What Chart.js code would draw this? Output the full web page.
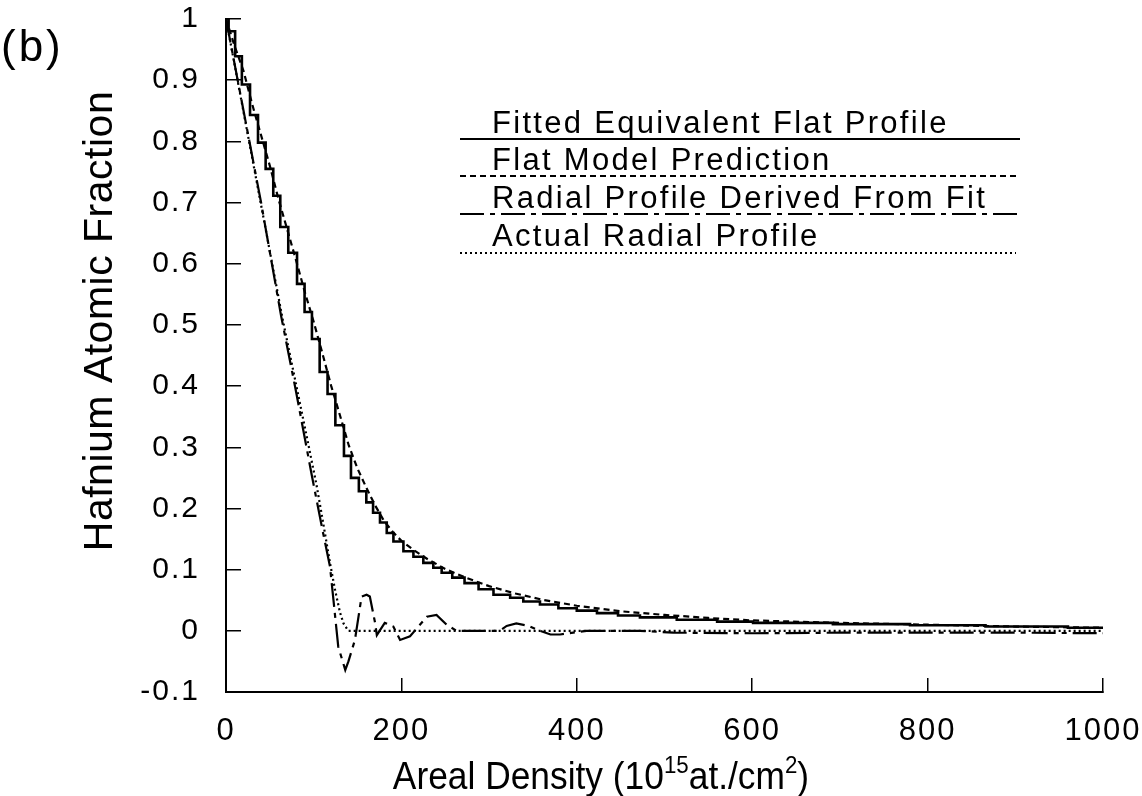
<!DOCTYPE html>
<html lang="en">
<head>
    <meta charset="UTF-8">
    <title>Hafnium Atomic Fraction vs Areal Density</title>
    <script src="https://cdn.jsdelivr.net/npm/chart.js@4/dist/chart.umd.min.js"></script>
    <style>
        html, body { margin: 0; padding: 0; background: #fff; }
        #wrap { width: 1142px; height: 796px; position: relative; }
    </style>
</head>
<body>
    <div id="wrap">
        <canvas id="profile" width="1142" height="796"></canvas>
    </div>

    <script>
        // axis ticks
        const xTicks = [0, 200, 400, 600, 800, 1000];
        const yTicks = [-0.1, 0, 0.1, 0.2, 0.3, 0.4, 0.5, 0.6, 0.7, 0.8, 0.9, 1];

        const seriesNames = [
            'Fitted Equivalent Flat Profile',
            'Flat Model Prediction',
            'Radial Profile Derived From Fit',
            'Actual Radial Profile'
        ];

        // fitted equivalent flat profile: step edges and the level held from each edge on
        const fitEdges = [0, 3, 10.4, 18.1, 27.4, 36.5, 45.2, 53.9, 61.9, 71,
            81, 89.6, 98, 106.8, 115.8, 124.7, 134.5, 142.5, 151.5, 160,
            167.7, 175.6, 183.3, 190.9, 202.3, 213.7, 225, 236.4, 245.9, 258,
            272, 288, 305, 324, 339, 358, 379, 400, 423, 447,
            472, 514, 560, 601, 692, 780, 866, 960, 1000];
        const fitLevels = [1.0, 0.98, 0.939, 0.893, 0.843, 0.798, 0.755, 0.711, 0.66, 0.618,
            0.567, 0.521, 0.477, 0.423, 0.387, 0.336, 0.286, 0.25, 0.228, 0.21,
            0.193, 0.177, 0.16, 0.146, 0.13, 0.121, 0.111, 0.103, 0.095, 0.087,
            0.078, 0.068, 0.059, 0.054, 0.048, 0.043, 0.037, 0.033, 0.029, 0.025,
            0.022, 0.018, 0.015, 0.013, 0.011, 0.009, 0.007, 0.005, 0.005];

        // flat model prediction
        const flatX = [0, 10, 20, 30, 40, 50, 60, 70, 80, 90,
            100, 110, 120, 130, 140, 150, 160, 170, 180, 190,
            200, 215, 230, 250, 275, 300, 330, 360, 400, 450,
            500, 550, 600, 700, 800, 900, 1000];
        const flatY = [1.0, 0.955, 0.915, 0.86, 0.81, 0.76, 0.705, 0.655, 0.605, 0.553,
            0.505, 0.453, 0.40, 0.352, 0.303, 0.265, 0.234, 0.205, 0.18, 0.162,
            0.147, 0.131, 0.117, 0.101, 0.086, 0.073, 0.061, 0.051, 0.041, 0.032,
            0.026, 0.021, 0.017, 0.013, 0.010, 0.007, 0.005];

        // radial profile derived from the fit
        const derivedX = [0, 20, 40, 62.8, 80, 97.7, 110, 118.6, 128, 136,
            139.6, 147, 154.6, 160.3, 164, 170, 172, 181, 190.8, 198.5,
            209.8, 229, 240, 251.5, 263, 312, 320, 331, 345, 358,
            370, 381, 411, 472, 510, 600, 700, 800, 900, 1000];
        const derivedY = [1.0, 0.85, 0.70, 0.515, 0.39, 0.255, 0.165, 0.105, -0.026, -0.064,
            -0.05, -0.015, 0.056, 0.059, 0.056, 0.013, -0.007, 0.013, 0.007, -0.015,
            -0.009, 0.023, 0.026, 0.01, 0, 0, 0.008, 0.012, 0.008, 0,
            -0.006, -0.006, 0, 0, -0.003, -0.004, -0.003, -0.003, -0.003, -0.004];

        // actual radial profile
        const actualX = [0, 20, 40, 64.5, 78.7, 92.7, 103, 110, 118.6, 124.3, 130, 134, 139.5, 1000];
        const actualY = [1.0, 0.848, 0.696, 0.51, 0.411, 0.313, 0.24, 0.183, 0.111, 0.067, 0.03, 0.012, 0, 0];

        function points(xs, ys) {
            return xs.map(function (x, i) { return { x: x, y: ys[i] }; });
        }

        var textFont = "'Liberation Sans', Arial, Helvetica, sans-serif";
        var dashes = [[], [6, 4], [24, 6, 5, 6], [2, 3]];
        var widths = [2.6, 2.2, 2.2, 2.2];

        // titles, panel letter and the line-sample legend
        var decorations = {
            id: 'decorations',
            beforeDraw: function (chart) {
                chart.ctx.letterSpacing = '2px';
            },
            afterDraw: function (chart) {
                var ctx = chart.ctx;
                ctx.save();
                ctx.fillStyle = '#000';
                ctx.strokeStyle = '#000';

                // (b)
                ctx.letterSpacing = '3px';
                ctx.font = '44px ' + textFont;
                ctx.textAlign = 'left';
                ctx.textBaseline = 'alphabetic';
                ctx.fillText('(b)', 1, 61);

                // y title
                ctx.letterSpacing = '0.5px';
                ctx.save();
                ctx.translate(101, 321);
                ctx.rotate(-Math.PI / 2);
                ctx.font = '41px ' + textFont;
                ctx.textAlign = 'center';
                ctx.textBaseline = 'middle';
                ctx.fillText('Hafnium Atomic Fraction', 0, 0);
                ctx.restore();

                // x title with superscripts
                var big = '38px ' + textFont, small = '24px ' + textFont;
                var parts = [
                    ['Areal Density (10', big, 0],
                    ['15', small, -16],
                    ['at./cm', big, 0],
                    ['2', small, -16],
                    [')', big, 0]
                ];
                ctx.letterSpacing = '0px';
                var total = 0;
                parts.forEach(function (p) { ctx.font = p[1]; total += ctx.measureText(p[0]).width; });
                var sx = 0.93;
                ctx.save();
                ctx.translate(601 - total * sx / 2, 789);
                ctx.scale(sx, 1);
                ctx.textAlign = 'left';
                ctx.textBaseline = 'alphabetic';
                var cx = 0;
                parts.forEach(function (p) {
                    ctx.font = p[1];
                    ctx.fillText(p[0], cx, p[2]);
                    cx += ctx.measureText(p[0]).width;
                });
                ctx.restore();

                // legend: label above a sample of each line style
                var rowText = [133, 170, 208, 246];
                var rowLine = [139, 176, 214, 253];
                var lineEnd = [1020, 1016, 1020, 1016];
                ctx.font = '31px ' + textFont;
                ctx.letterSpacing = '2.3px';
                ctx.textAlign = 'left';
                ctx.textBaseline = 'alphabetic';
                seriesNames.forEach(function (name, i) {
                    ctx.fillText(name, 492, rowText[i]);
                    ctx.beginPath();
                    ctx.setLineDash(dashes[i]);
                    ctx.lineWidth = 2.2;
                    ctx.moveTo(460, rowLine[i]);
                    ctx.lineTo(lineEnd[i], rowLine[i]);
                    ctx.stroke();
                });
                ctx.setLineDash([]);
                ctx.letterSpacing = '0px';
                ctx.restore();
            }
        };

        function lineSet(i, data, stepped) {
            return {
                label: seriesNames[i],
                data: data,
                borderColor: '#000',
                borderWidth: widths[i],
                borderDash: dashes[i],
                pointRadius: 0,
                fill: false,
                tension: 0,
                stepped: stepped ? 'before' : false
            };
        }

        // keep the plot area fixed: no extra label padding from the scales
        function noPad(scale) {
            scale.paddingTop = 0;
            scale.paddingBottom = 0;
            scale.paddingLeft = 0;
            scale.paddingRight = 0;
        }

        var ctx = document.getElementById('profile').getContext('2d');
        var profileChart = new Chart(ctx, {
            type: 'line',
            data: {
                datasets: [
                    lineSet(0, points(fitEdges, fitLevels), true),
                    lineSet(1, points(flatX, flatY), false),
                    lineSet(2, points(derivedX, derivedY), false),
                    lineSet(3, points(actualX, actualY), false)
                ]
            },
            options: {
                responsive: false,
                animation: false,
                layout: { padding: { top: 19, right: 39, left: 0, bottom: 0 } },
                plugins: {
                    legend: { display: false },
                    tooltip: { enabled: false }
                },
                scales: {
                    x: {
                        type: 'linear',
                        min: 0,
                        max: 1000,
                        afterBuildTicks: function (scale) {
                            scale.ticks = xTicks.map(function (v) { return { value: v }; });
                        },
                        afterFit: function (scale) { scale.height = 104; noPad(scale); },
                        border: { display: true, color: '#000', width: 2 },
                        grid: { drawOnChartArea: false, drawTicks: true, tickLength: -14, color: '#000', lineWidth: 1.5 },
                        ticks: {
                            color: '#000',
                            padding: 35,
                            maxRotation: 0,
                            font: { family: textFont, size: 31 },
                            callback: function (v) { return String(v); }
                        }
                    },
                    y: {
                        type: 'linear',
                        min: -0.1,
                        max: 1,
                        afterBuildTicks: function (scale) {
                            scale.ticks = yTicks.map(function (v) { return { value: v }; });
                        },
                        afterFit: function (scale) { scale.width = 226; noPad(scale); },
                        border: { display: true, color: '#000', width: 2 },
                        grid: { drawOnChartArea: false, drawTicks: true, tickLength: -15, color: '#000', lineWidth: 1.5 },
                        ticks: {
                            color: '#000',
                            padding: 41,
                            font: { family: textFont, size: 30 },
                            callback: function (v) { return String(Math.round(v * 10) / 10); }
                        }
                    }
                }
            },
            plugins: [decorations]
        });
    </script>
</body>
</html>
